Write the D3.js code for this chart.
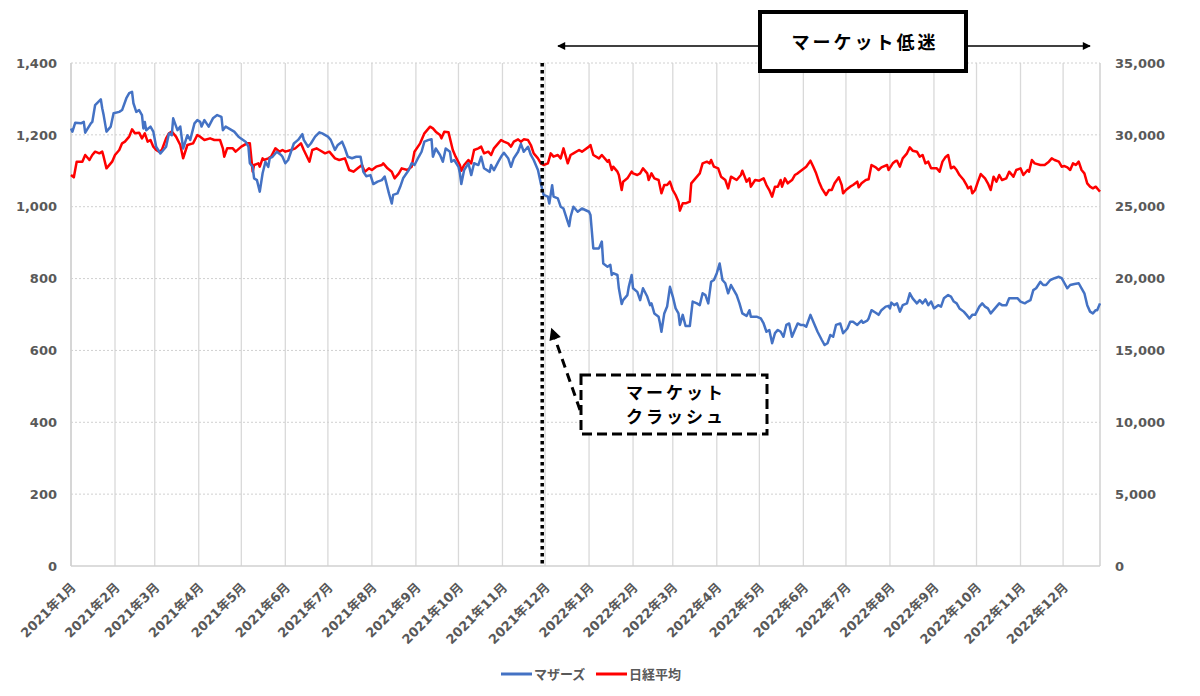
<!DOCTYPE html>
<html>
<head>
<meta charset="utf-8">
<script src="https://cdn.jsdelivr.net/npm/d3@7"></script>
<style>
  body { margin: 0; background: #fff; }
  svg { display: block; }
</style>
</head>
<body>
<svg id="chart" width="1200" height="696"></svg>
<script>
// ---- data ----
var seriesNames = ["マザーズ", "日経平均"];
var seriesColors = ["#4472C4", "#FF0000"];

var mothersSeries = [
  ["2021-01-04",1218],["2021-01-05",1209],["2021-01-07",1234],["2021-01-11",1232],["2021-01-13",1236],["2021-01-14",1206],
  ["2021-01-18",1232],["2021-01-19",1236],["2021-01-21",1283],["2021-01-25",1299],["2021-01-26",1274],["2021-01-27",1255],
  ["2021-01-29",1209],["2021-02-01",1223],["2021-02-03",1260],["2021-02-07",1264],["2021-02-09",1269],["2021-02-12",1302],
  ["2021-02-14",1316],["2021-02-16",1320],["2021-02-17",1288],["2021-02-19",1264],["2021-02-21",1269],["2021-02-23",1255],
  ["2021-02-24",1218],["2021-02-25",1236],["2021-02-26",1213],["2021-03-01",1223],["2021-03-03",1209],["2021-03-05",1167],
  ["2021-03-08",1148],["2021-03-12",1167],["2021-03-14",1204],["2021-03-16",1199],["2021-03-17",1246],["2021-03-20",1213],
  ["2021-03-22",1223],["2021-03-24",1162],["2021-03-27",1199],["2021-03-29",1186],["2021-04-01",1232],["2021-04-03",1241],
  ["2021-04-05",1236],["2021-04-06",1223],["2021-04-08",1241],["2021-04-11",1223],["2021-04-14",1246],["2021-04-17",1255],
  ["2021-04-20",1250],["2021-04-21",1213],["2021-04-23",1223],["2021-04-29",1209],["2021-05-02",1195],["2021-05-07",1181],
  ["2021-05-09",1167],["2021-05-10",1121],["2021-05-12",1111],["2021-05-13",1079],["2021-05-15",1074],["2021-05-17",1042],
  ["2021-05-19",1093],["2021-05-21",1125],["2021-05-23",1111],["2021-05-24",1135],["2021-05-26",1139],["2021-05-29",1153],
  ["2021-06-01",1144],["2021-06-02",1139],["2021-06-04",1121],["2021-06-06",1130],["2021-06-08",1153],["2021-06-10",1176],
  ["2021-06-13",1186],["2021-06-16",1202],["2021-06-17",1186],["2021-06-20",1167],["2021-06-22",1176],["2021-06-25",1195],
  ["2021-06-28",1207],["2021-06-30",1204],["2021-07-04",1195],["2021-07-06",1186],["2021-07-09",1158],["2021-07-11",1172],
  ["2021-07-14",1181],["2021-07-16",1162],["2021-07-18",1139],["2021-07-21",1135],["2021-07-24",1139],["2021-07-27",1139],
  ["2021-07-29",1097],["2021-07-31",1085],["2021-08-03",1088],["2021-08-05",1063],["2021-08-08",1070],["2021-08-11",1074],
  ["2021-08-13",1084],["2021-08-16",1037],["2021-08-18",1009],["2021-08-19",1033],["2021-08-22",1037],["2021-08-24",1056],
  ["2021-08-26",1079],["2021-08-30",1102],["2021-09-01",1121],["2021-09-03",1116],["2021-09-06",1139],["2021-09-08",1153],
  ["2021-09-10",1181],["2021-09-13",1186],["2021-09-15",1188],["2021-09-16",1139],["2021-09-18",1162],["2021-09-21",1144],
  ["2021-09-23",1125],["2021-09-25",1162],["2021-09-28",1153],["2021-09-29",1125],["2021-10-01",1130],["2021-10-04",1111],
  ["2021-10-05",1093],["2021-10-06",1063],["2021-10-08",1102],["2021-10-11",1121],["2021-10-13",1088],["2021-10-15",1121],
  ["2021-10-18",1116],["2021-10-20",1139],["2021-10-22",1107],["2021-10-26",1097],["2021-10-27",1116],["2021-10-29",1102],
  ["2021-11-01",1125],["2021-11-03",1139],["2021-11-05",1150],["2021-11-08",1135],["2021-11-10",1111],["2021-11-12",1135],
  ["2021-11-15",1153],["2021-11-17",1175],["2021-11-19",1153],["2021-11-22",1167],["2021-11-24",1144],["2021-11-26",1130],
  ["2021-11-29",1102],["2021-12-01",1065],["2021-12-03",1033],["2021-12-06",1028],["2021-12-07",1009],["2021-12-09",1060],
  ["2021-12-10",1028],["2021-12-13",1023],["2021-12-15",1000],["2021-12-17",995],["2021-12-20",958],["2021-12-21",946],
  ["2021-12-22",972],["2021-12-24",1000],["2021-12-27",986],["2021-12-30",995],["2022-01-04",986],["2022-01-05",977],
  ["2022-01-07",884],["2022-01-10",884],["2022-01-11",884],["2022-01-13",903],["2022-01-14",842],["2022-01-17",833],
  ["2022-01-19",838],["2022-01-20",810],["2022-01-21",815],["2022-01-24",810],["2022-01-25",773],["2022-01-27",729],
  ["2022-01-28",740],["2022-01-31",754],["2022-02-01",777],["2022-02-03",810],["2022-02-04",773],["2022-02-07",763],
  ["2022-02-09",740],["2022-02-11",773],["2022-02-14",750],["2022-02-16",726],["2022-02-17",731],["2022-02-19",703],
  ["2022-02-22",694],["2022-02-23",675],["2022-02-24",652],["2022-02-26",703],["2022-02-28",722],["2022-03-02",777],
  ["2022-03-04",750],["2022-03-06",717],["2022-03-08",703],["2022-03-09",671],["2022-03-11",699],["2022-03-13",668],
  ["2022-03-16",668],["2022-03-18",736],["2022-03-21",731],["2022-03-23",726],["2022-03-25",759],["2022-03-27",754],
  ["2022-03-29",731],["2022-03-31",791],["2022-04-02",796],["2022-04-04",815],["2022-04-06",842],["2022-04-08",796],
  ["2022-04-10",787],["2022-04-12",759],["2022-04-14",782],["2022-04-16",768],["2022-04-18",754],["2022-04-20",731],
  ["2022-04-22",703],["2022-04-25",696],["2022-04-27",712],["2022-04-28",694],["2022-05-02",694],["2022-05-05",689],
  ["2022-05-07",675],["2022-05-09",652],["2022-05-11",657],["2022-05-13",620],["2022-05-15",648],["2022-05-17",657],
  ["2022-05-19",652],["2022-05-21",638],["2022-05-23",671],["2022-05-25",675],["2022-05-27",638],["2022-05-29",657],
  ["2022-05-31",675],["2022-06-02",671],["2022-06-04",671],["2022-06-06",666],["2022-06-09",699],["2022-06-11",680],
  ["2022-06-14",652],["2022-06-17",629],["2022-06-19",615],["2022-06-21",620],["2022-06-23",643],["2022-06-25",638],
  ["2022-06-27",671],["2022-06-30",675],["2022-07-02",648],["2022-07-03",652],["2022-07-05",661],["2022-07-07",680],
  ["2022-07-09",680],["2022-07-12",671],["2022-07-13",675],["2022-07-15",683],["2022-07-16",677],["2022-07-19",683],
  ["2022-07-20",689],["2022-07-22",712],["2022-07-25",705],["2022-07-27",699],["2022-07-29",712],["2022-08-01",722],
  ["2022-08-03",724],["2022-08-04",717],["2022-08-05",733],["2022-08-07",726],["2022-08-09",731],["2022-08-11",708],
  ["2022-08-13",726],["2022-08-16",731],["2022-08-18",759],["2022-08-20",745],["2022-08-23",731],["2022-08-25",740],
  ["2022-08-27",731],["2022-08-29",742],["2022-08-31",726],["2022-09-02",736],["2022-09-04",717],["2022-09-07",726],
  ["2022-09-09",722],["2022-09-11",745],["2022-09-14",754],["2022-09-16",750],["2022-09-18",736],["2022-09-20",731],
  ["2022-09-22",717],["2022-09-25",708],["2022-09-27",699],["2022-09-29",689],["2022-10-01",699],["2022-10-03",699],
  ["2022-10-06",722],["2022-10-08",731],["2022-10-10",722],["2022-10-12",717],["2022-10-14",703],["2022-10-17",717],
  ["2022-10-20",731],["2022-10-22",726],["2022-10-25",726],["2022-10-27",745],["2022-10-30",745],["2022-11-02",745],
  ["2022-11-04",736],["2022-11-07",731],["2022-11-09",736],["2022-11-11",740],["2022-11-13",768],["2022-11-15",773],
  ["2022-11-18",791],["2022-11-20",782],["2022-11-22",782],["2022-11-25",796],["2022-11-28",801],["2022-12-01",805],
  ["2022-12-03",801],["2022-12-05",787],["2022-12-07",773],["2022-12-09",782],["2022-12-12",785],["2022-12-15",787],
  ["2022-12-17",773],["2022-12-19",759],["2022-12-21",726],["2022-12-23",708],["2022-12-25",703],["2022-12-27",712],
  ["2022-12-28",712],["2022-12-30",731]
];

var nikkeiSeries = [
  ["2021-01-04",27207],["2021-01-06",27045],["2021-01-08",28135],["2021-01-12",28135],["2021-01-14",28598],["2021-01-17",28250],
  ["2021-01-19",28598],["2021-01-21",28830],["2021-01-24",28714],["2021-01-26",28830],["2021-01-27",28482],["2021-01-29",27670],
  ["2021-02-02",28135],["2021-02-04",28598],["2021-02-07",28946],["2021-02-09",29410],["2021-02-11",29526],["2021-02-14",29874],
  ["2021-02-16",30384],["2021-02-18",30106],["2021-02-21",30152],["2021-02-23",29758],["2021-02-25",30106],["2021-02-27",29526],
  ["2021-03-01",29642],["2021-03-03",29178],["2021-03-05",28946],["2021-03-07",28830],["2021-03-09",28946],["2021-03-12",29758],
  ["2021-03-14",30106],["2021-03-16",30222],["2021-03-19",29874],["2021-03-22",29294],["2021-03-24",28366],["2021-03-27",29294],
  ["2021-03-31",29410],["2021-04-03",29990],["2021-04-05",29874],["2021-04-08",29642],["2021-04-12",29758],["2021-04-15",29642],
  ["2021-04-19",29642],["2021-04-21",29062],["2021-04-22",28482],["2021-04-24",29062],["2021-04-28",29062],["2021-04-30",28830],
  ["2021-05-04",29178],["2021-05-08",29410],["2021-05-10",29410],["2021-05-12",27438],["2021-05-13",27902],["2021-05-16",28018],
  ["2021-05-17",27786],["2021-05-19",28366],["2021-05-20",28250],["2021-05-23",28366],["2021-05-25",28482],["2021-05-28",29061],
  ["2021-05-31",28830],["2021-06-02",28946],["2021-06-04",28830],["2021-06-08",28946],["2021-06-11",29061],["2021-06-15",29409],
  ["2021-06-17",28946],["2021-06-21",28134],["2021-06-23",28946],["2021-06-26",29061],["2021-06-28",28946],["2021-07-02",28714],
  ["2021-07-05",28830],["2021-07-09",28366],["2021-07-12",28250],["2021-07-16",28366],["2021-07-19",27554],["2021-07-22",27438],
  ["2021-07-25",27670],["2021-07-28",27902],["2021-07-30",27438],["2021-08-02",27670],["2021-08-04",27554],["2021-08-07",27786],
  ["2021-08-11",27902],["2021-08-12",28018],["2021-08-15",27670],["2021-08-18",27438],["2021-08-20",26974],["2021-08-23",27322],
  ["2021-08-25",27670],["2021-08-29",27554],["2021-09-01",27786],["2021-09-03",28830],["2021-09-07",29409],["2021-09-10",30105],
  ["2021-09-14",30569],["2021-09-16",30453],["2021-09-18",30221],["2021-09-21",29989],["2021-09-22",29757],["2021-09-24",30221],
  ["2021-09-27",30175],["2021-09-30",28945],["2021-10-02",28482],["2021-10-05",27902],["2021-10-06",27508],["2021-10-08",27902],
  ["2021-10-11",28250],["2021-10-13",28018],["2021-10-15",28946],["2021-10-18",29061],["2021-10-20",29178],["2021-10-22",28714],
  ["2021-10-25",28830],["2021-10-27",28598],["2021-10-29",29061],["2021-11-01",29409],["2021-11-03",29641],["2021-11-05",29525],
  ["2021-11-08",29409],["2021-11-10",29178],["2021-11-12",29525],["2021-11-15",29688],["2021-11-17",29525],["2021-11-19",29688],
  ["2021-11-22",29641],["2021-11-24",29293],["2021-11-26",28714],["2021-11-29",28366],["2021-12-01",28018],["2021-12-03",27902],
  ["2021-12-06",28018],["2021-12-08",28714],["2021-12-10",28482],["2021-12-13",28598],["2021-12-15",28366],["2021-12-17",29061],
  ["2021-12-20",28018],["2021-12-22",28598],["2021-12-24",28714],["2021-12-28",28946],["2021-12-30",28830],["2022-01-04",29180],
  ["2022-01-05",29293],["2022-01-07",28598],["2022-01-11",28366],["2022-01-13",28598],["2022-01-17",28134],["2022-01-18",28250],
  ["2022-01-20",27554],["2022-01-21",27786],["2022-01-24",27438],["2022-01-25",27206],["2022-01-27",26162],["2022-01-28",26742],
  ["2022-01-31",26974],["2022-02-03",27438],["2022-02-04",27322],["2022-02-07",27206],["2022-02-09",27322],["2022-02-11",27670],
  ["2022-02-14",27322],["2022-02-15",26858],["2022-02-17",27322],["2022-02-19",26974],["2022-02-22",26858],["2022-02-24",25930],
  ["2022-02-26",26510],["2022-02-28",26510],["2022-03-02",26742],["2022-03-04",26162],["2022-03-06",25815],["2022-03-08",25351],
  ["2022-03-09",24725],["2022-03-11",25235],["2022-03-13",25235],["2022-03-16",25351],["2022-03-17",26626],["2022-03-20",26974],
  ["2022-03-23",27322],["2022-03-25",28018],["2022-03-28",28134],["2022-03-30",28018],["2022-03-31",28250],["2022-04-02",27786],
  ["2022-04-05",27670],["2022-04-07",27090],["2022-04-10",26858],["2022-04-12",26278],["2022-04-14",27090],["2022-04-18",26858],
  ["2022-04-21",27206],["2022-04-22",27508],["2022-04-25",26742],["2022-04-27",26974],["2022-04-28",26394],["2022-05-01",26858],
  ["2022-05-04",26812],["2022-05-07",26974],["2022-05-09",26510],["2022-05-11",26162],["2022-05-13",25699],["2022-05-15",26394],
  ["2022-05-17",26394],["2022-05-19",26858],["2022-05-20",26394],["2022-05-22",26974],["2022-05-24",26626],["2022-05-27",26858],
  ["2022-05-29",27206],["2022-05-31",27322],["2022-06-03",27554],["2022-06-06",27786],["2022-06-09",28204],["2022-06-11",27786],
  ["2022-06-13",27322],["2022-06-15",26742],["2022-06-17",26278],["2022-06-20",25815],["2022-06-22",26162],["2022-06-24",26162],
  ["2022-06-26",26626],["2022-06-29",27044],["2022-07-01",26510],["2022-07-02",25930],["2022-07-04",26162],["2022-07-07",26394],
  ["2022-07-09",26510],["2022-07-12",26742],["2022-07-13",26348],["2022-07-15",26626],["2022-07-18",26858],["2022-07-20",26905],
  ["2022-07-22",27902],["2022-07-25",27740],["2022-07-27",27554],["2022-07-29",27740],["2022-08-02",27902],["2022-08-03",27554],
  ["2022-08-06",28018],["2022-08-08",28180],["2022-08-09",28203],["2022-08-11",27786],["2022-08-13",28366],["2022-08-16",28714],
  ["2022-08-18",29131],["2022-08-20",28899],["2022-08-23",28830],["2022-08-25",28482],["2022-08-27",28598],["2022-08-29",28018],
  ["2022-08-31",28134],["2022-09-02",27670],["2022-09-06",27670],["2022-09-08",27438],["2022-09-10",28134],["2022-09-12",28436],
  ["2022-09-14",28598],["2022-09-16",27670],["2022-09-18",27786],["2022-09-20",27554],["2022-09-22",27206],["2022-09-25",26858],
  ["2022-09-27",26510],["2022-09-28",26278],["2022-09-30",26394],["2022-10-01",25931],["2022-10-03",26163],["2022-10-05",26743],
  ["2022-10-07",27276],["2022-10-10",26974],["2022-10-12",26626],["2022-10-14",26163],["2022-10-16",27090],["2022-10-18",26743],
  ["2022-10-20",27206],["2022-10-22",26858],["2022-10-25",26974],["2022-10-27",27438],["2022-10-30",27090],["2022-11-01",27554],
  ["2022-11-04",27670],["2022-11-06",27206],["2022-11-09",27554],["2022-11-10",27438],["2022-11-12",28250],["2022-11-14",28018],
  ["2022-11-18",27902],["2022-11-21",27902],["2022-11-24",28134],["2022-11-26",28366],["2022-11-28",28250],["2022-12-01",28134],
  ["2022-12-03",27786],["2022-12-05",27832],["2022-12-07",27740],["2022-12-09",27554],["2022-12-11",28018],["2022-12-13",27902],
  ["2022-12-15",28134],["2022-12-17",27554],["2022-12-19",27322],["2022-12-21",26626],["2022-12-23",26394],["2022-12-25",26278],
  ["2022-12-27",26394],["2022-12-29",26163],["2022-12-30",26047]
];

// month ticks fall on the same day as the first date (Excel date axis)
var monthTicks = ["2021-01-04","2021-02-04","2021-03-04","2021-04-04","2021-05-04","2021-06-04",
  "2021-07-04","2021-08-04","2021-09-04","2021-10-04","2021-11-04","2021-12-04",
  "2022-01-04","2022-02-04","2022-03-04","2022-04-04","2022-05-04","2022-06-04",
  "2022-07-04","2022-08-04","2022-09-04","2022-10-04","2022-11-04","2022-12-04"];
var monthLabels = ["2021年1月","2021年2月","2021年3月","2021年4月","2021年5月","2021年6月",
  "2021年7月","2021年8月","2021年9月","2021年10月","2021年11月","2021年12月",
  "2022年1月","2022年2月","2022年3月","2022年4月","2022年5月","2022年6月",
  "2022年7月","2022年8月","2022年9月","2022年10月","2022年11月","2022年12月"];
var leftTicks = [0, 200, 400, 600, 800, 1000, 1200, 1400];
var rightTicks = [0, 5000, 10000, 15000, 20000, 25000, 30000, 35000];
var dateRange = ["2021-01-04", "2022-12-30"];
var crashDate = "2021-12-02";
var slumpLabel = "マーケット低迷";
var crashLabel = ["マーケット", "クラッシュ"];

// ---- layout ----
var margin = {top: 63, right: 100, bottom: 130, left: 71};
var svg = d3.select("#chart");
var W = +svg.attr("width"), H = +svg.attr("height");
var width = W - margin.left - margin.right;   // 1029
var height = H - margin.top - margin.bottom;  // 503
var tickFont = "'DejaVu Sans', 'Noto Sans CJK JP', sans-serif";
var jpFont = "'Noto Sans CJK JP', sans-serif";
var grey = "#595959";

var parse = d3.timeParse("%Y-%m-%d");

var x = d3.scaleTime()
  .domain(dateRange.map(parse))
  .range([0, width]);
var yLeft = d3.scaleLinear().domain([0, 1400]).range([height, 0]);
var yRight = d3.scaleLinear().domain([0, 35000]).range([height, 0]);

svg.append("rect").attr("width", W).attr("height", H).attr("fill", "#fff");

var g = svg.append("g").attr("transform", "translate(" + margin.left + "," + margin.top + ")");

// vertical month gridlines
g.selectAll("line.vgrid")
  .data(monthTicks)
  .enter()
  .append("line")
  .attr("class", "vgrid")
  .attr("x1", function(d){ return x(parse(d)); })
  .attr("x2", function(d){ return x(parse(d)); })
  .attr("y1", 0)
  .attr("y2", height)
  .attr("stroke", "#d9d9d9")
  .attr("stroke-width", 1.3);

// horizontal dotted gridlines
g.selectAll("line.hgrid")
  .data(leftTicks.slice(1))
  .enter()
  .append("line")
  .attr("class", "hgrid")
  .attr("x1", 0)
  .attr("x2", width)
  .attr("y1", function(d){ return yLeft(d); })
  .attr("y2", function(d){ return yLeft(d); })
  .attr("stroke", "#d0d0d0")
  .attr("stroke-width", 1)
  .attr("stroke-dasharray", "2,2");

// axis lines
g.append("line").attr("x1", 0).attr("x2", width).attr("y1", height).attr("y2", height)
  .attr("stroke", "#d0d0d0").attr("stroke-width", 1.5);
g.append("line").attr("x1", 0).attr("x2", 0).attr("y1", 0).attr("y2", height)
  .attr("stroke", "#d0d0d0").attr("stroke-width", 1.5);
g.append("line").attr("x1", width).attr("x2", width).attr("y1", 0).attr("y2", height)
  .attr("stroke", "#d0d0d0").attr("stroke-width", 1.5);

// left axis
var leftAxis = g.append("g")
  .call(d3.axisLeft(yLeft).tickValues(leftTicks).tickSize(0).tickPadding(14).tickFormat(d3.format(",")));
leftAxis.select(".domain").remove();

// right axis
var rightAxis = g.append("g")
  .attr("transform", "translate(" + width + ",0)")
  .call(d3.axisRight(yRight).tickValues(rightTicks).tickSize(0).tickPadding(15).tickFormat(d3.format(",")));
rightAxis.select(".domain").remove();

// bottom axis with rotated month labels
var bottomAxis = g.append("g")
  .attr("transform", "translate(0," + height + ")")
  .call(d3.axisBottom(x).tickValues(monthTicks.map(parse)).tickSize(0)
    .tickFormat(function(d, i){ return monthLabels[i]; }));
bottomAxis.select(".domain").remove();
bottomAxis.selectAll("text")
  .attr("text-anchor", "end")
  .attr("x", 0)
  .attr("y", 0)
  .attr("dy", "0.35em")
  .attr("transform", "translate(2,19) rotate(-45)");

[leftAxis, rightAxis, bottomAxis].forEach(function(a){
  a.selectAll("text")
    .attr("fill", grey)
    .style("font-family", tickFont)
    .style("font-size", "13px")
    .style("font-weight", "bold");
});

// series lines
var lineLeft = d3.line()
  .x(function(d){ return x(parse(d[0])); })
  .y(function(d){ return yLeft(d[1]); });
var lineRight = d3.line()
  .x(function(d){ return x(parse(d[0])); })
  .y(function(d){ return yRight(d[1]); });

g.append("path")
  .datum(nikkeiSeries)
  .attr("d", lineRight)
  .attr("fill", "none")
  .attr("stroke", seriesColors[1])
  .attr("stroke-width", 2.5)
  .attr("stroke-linejoin", "round");

g.append("path")
  .datum(mothersSeries)
  .attr("d", lineLeft)
  .attr("fill", "none")
  .attr("stroke", seriesColors[0])
  .attr("stroke-width", 2.5)
  .attr("stroke-linejoin", "round");

// crash marker: thick dotted vertical line
g.append("line")
  .attr("x1", x(parse(crashDate)))
  .attr("x2", x(parse(crashDate)))
  .attr("y1", 0)
  .attr("y2", height)
  .attr("stroke", "#000")
  .attr("stroke-width", 3.5)
  .attr("stroke-dasharray", "3.5,3.5");

// ---- annotations ----
var defs = svg.append("defs");
defs.append("marker")
  .attr("id", "arrow")
  .attr("viewBox", "0 0 10 10")
  .attr("refX", 9).attr("refY", 5)
  .attr("markerWidth", 10).attr("markerHeight", 8)
  .attr("markerUnits", "userSpaceOnUse")
  .attr("orient", "auto-start-reverse")
  .append("path").attr("d", "M0,0L10,5L0,10z").attr("fill", "#000");
defs.append("marker")
  .attr("id", "arrowBig")
  .attr("viewBox", "0 0 10 10")
  .attr("refX", 8).attr("refY", 5)
  .attr("markerWidth", 14).attr("markerHeight", 12)
  .attr("markerUnits", "userSpaceOnUse")
  .attr("orient", "auto")
  .append("path").attr("d", "M0,0L10,5L0,10z").attr("fill", "#000");

// market slump: double-headed arrow + boxed label
svg.append("line")
  .attr("x1", 558).attr("x2", 1090)
  .attr("y1", 46).attr("y2", 46)
  .attr("stroke", "#000").attr("stroke-width", 1.5)
  .attr("marker-start", "url(#arrow)")
  .attr("marker-end", "url(#arrow)");
svg.append("rect")
  .attr("x", 760).attr("y", 12).attr("width", 206).attr("height", 59)
  .attr("fill", "#fff").attr("stroke", "#000").attr("stroke-width", 4);
svg.append("text")
  .attr("x", 865).attr("y", 43)
  .attr("dy", "0.35em")
  .attr("text-anchor", "middle")
  .style("font-family", jpFont)
  .style("font-size", "18px")
  .style("font-weight", "bold")
  .style("letter-spacing", "3px")
  .text(slumpLabel);

// market crash: dashed arrow + dashed box
svg.append("line")
  .attr("x1", 580).attr("y1", 410)
  .attr("x2", 552).attr("y2", 330)
  .attr("stroke", "#000").attr("stroke-width", 3)
  .attr("stroke-dasharray", "9,6")
  .attr("marker-end", "url(#arrowBig)");
svg.append("rect")
  .attr("x", 581).attr("y", 375).attr("width", 186).attr("height", 59)
  .attr("fill", "#fff").attr("stroke", "#000").attr("stroke-width", 3)
  .attr("stroke-dasharray", "10,5");
svg.selectAll("text.crash")
  .data(crashLabel)
  .enter()
  .append("text")
  .attr("class", "crash")
  .attr("x", 676)
  .attr("y", function(d, i){ return 393 + i * 24; })
  .attr("dy", "0.35em")
  .attr("text-anchor", "middle")
  .style("font-family", jpFont)
  .style("font-size", "17px")
  .style("font-weight", "bold")
  .style("letter-spacing", "3px")
  .text(function(d){ return d; });

// ---- legend ----
var legendX = [501, 596];
var legend = svg.selectAll("g.legend")
  .data(seriesNames)
  .enter()
  .append("g")
  .attr("class", "legend")
  .attr("transform", function(d, i){ return "translate(" + legendX[i] + ",674)"; });
legend.append("line")
  .attr("x1", 0).attr("x2", 31)
  .attr("stroke", function(d, i){ return seriesColors[i]; })
  .attr("stroke-width", 3);
legend.append("text")
  .attr("x", 33)
  .attr("dy", "0.35em")
  .attr("fill", grey)
  .style("font-family", jpFont)
  .style("font-size", "13px")
  .style("font-weight", "bold")
  .text(function(d){ return d; });
</script>
</body>
</html>
